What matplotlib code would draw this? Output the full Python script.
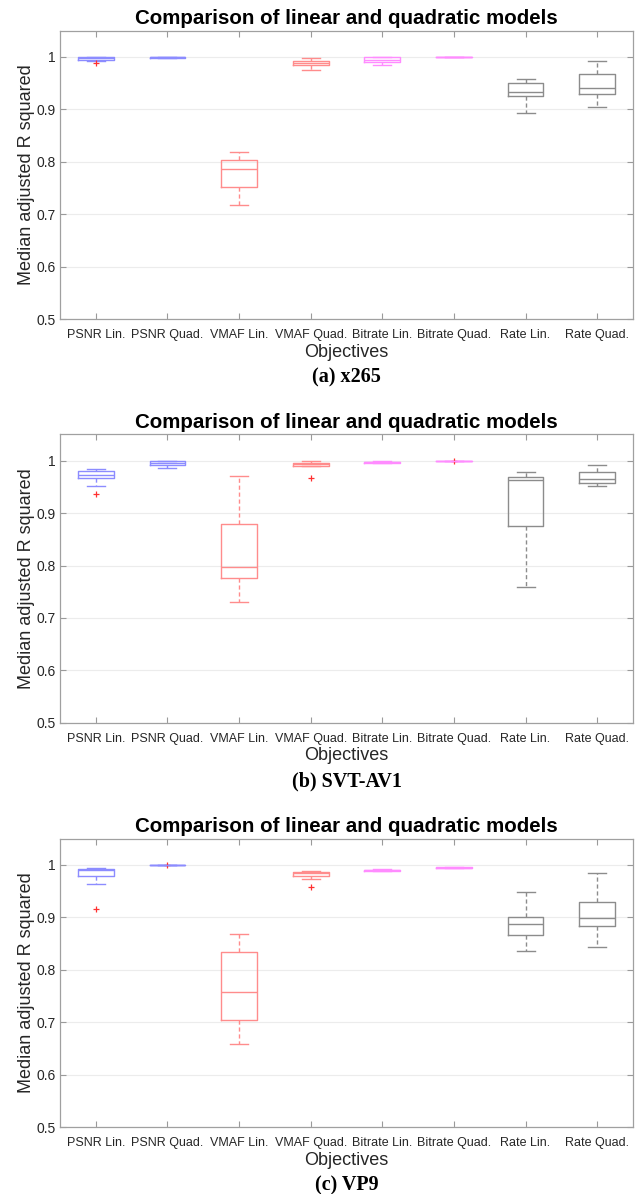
import matplotlib
matplotlib.use("Agg")
import matplotlib.pyplot as plt

categories = ["PSNR Lin.", "PSNR Quad.", "VMAF Lin.", "VMAF Quad.",
              "Bitrate Lin.", "Bitrate Quad.", "Rate Lin.", "Rate Quad."]
yticks = [0.5, 0.6, 0.7, 0.8, 0.9, 1.0]
ytick_labels = ["0.5", "0.6", "0.7", "0.8", "0.9", "1"]

# five-number summaries, one list per encoder
x265_whislo = [0.992, 0.998, 0.718, 0.975, 0.985, 0.999, 0.893, 0.904]
x265_q1 = [0.995, 0.998, 0.752, 0.984, 0.990, 0.9995, 0.925, 0.929]
x265_med = [0.997, 0.999, 0.786, 0.989, 0.995, 1.0, 0.934, 0.940]
x265_q3 = [0.999, 1.0, 0.803, 0.992, 1.0, 1.0, 0.950, 0.968]
x265_whishi = [1.0, 1.0, 0.818, 0.997, 1.0, 1.0, 0.958, 0.992]
x265_fliers = [[0.989], [], [], [], [], [], [], []]

av1_whislo = [0.952, 0.987, 0.730, 0.990, 0.995, 0.9995, 0.759, 0.951]
av1_q1 = [0.967, 0.992, 0.777, 0.990, 0.996, 1.0, 0.876, 0.958]
av1_med = [0.972, 0.995, 0.798, 0.994, 0.997, 1.0, 0.964, 0.966]
av1_q3 = [0.981, 0.999, 0.880, 0.995, 0.998, 1.0, 0.969, 0.979]
av1_whishi = [0.985, 1.0, 0.971, 0.999, 0.999, 1.0, 0.979, 0.992]
av1_fliers = [[0.937], [], [], [0.967], [], [0.999], [], []]

vp9_whislo = [0.964, 0.999, 0.659, 0.973, 0.988, 0.994, 0.836, 0.844]
vp9_q1 = [0.978, 0.999, 0.704, 0.978, 0.989, 0.995, 0.867, 0.884]
vp9_med = [0.990, 0.999, 0.758, 0.985, 0.990, 0.995, 0.888, 0.899]
vp9_q3 = [0.992, 0.9995, 0.833, 0.987, 0.991, 0.996, 0.900, 0.930]
vp9_whishi = [0.994, 1.0, 0.869, 0.989, 0.992, 0.996, 0.948, 0.984]
vp9_fliers = [[0.915], [0.999], [], [0.957], [], [], [], []]

captions = ["(a) x265", "(b) SVT-AV1", "(c) VP9"]

box_colors = ["#8c8cff", "#8c8cff", "#ff8c8c", "#ff8c8c",
              "#ff8cff", "#ff8cff", "#8c8c8c", "#8c8c8c"]

panels = [
    (x265_whislo, x265_q1, x265_med, x265_q3, x265_whishi, x265_fliers),
    (av1_whislo, av1_q1, av1_med, av1_q3, av1_whishi, av1_fliers),
    (vp9_whislo, vp9_q1, vp9_med, vp9_q3, vp9_whishi, vp9_fliers),
]

fig = plt.figure(figsize=(6.44, 11.94), dpi=100)
bottoms = [0.7328, 0.3946, 0.0561]

for (lo, q1, med, q3, hi, fl), bottom, caption in zip(panels, bottoms, captions):
    ax = fig.add_axes([0.0932, bottom, 0.8897, 0.2415])
    ax.set_axisbelow(True)
    ax.yaxis.grid(True, color="#ececec", linewidth=0.8)

    for i in range(len(categories)):
        stats = [{"whislo": lo[i], "q1": q1[i], "med": med[i], "q3": q3[i],
                  "whishi": hi[i], "fliers": fl[i], "label": categories[i]}]
        c = box_colors[i]
        ax.bxp(stats, positions=[i + 1], widths=0.5, showfliers=True,
               boxprops=dict(color=c, linewidth=1.0),
               medianprops=dict(color=c, linewidth=1.0),
               whiskerprops=dict(color=c, linewidth=1.0, linestyle=(0, (3, 2))),
               capprops=dict(color=c, linewidth=1.0),
               capwidths=0.25,
               flierprops=dict(marker="+", markeredgecolor="#ff3030",
                               markersize=5, markeredgewidth=0.9))

    ax.set_xlim(0.5, len(categories) + 0.5)
    ax.set_ylim(0.5, 1.05)
    ax.set_xticks(range(1, len(categories) + 1))
    ax.set_xticklabels(categories, fontsize=9, color="#262626",
                       family="Liberation Sans")
    ax.set_yticks(yticks)
    ax.set_yticklabels(ytick_labels, fontsize=10, color="#262626",
                       family="Liberation Sans")
    ax.tick_params(direction="in", length=4, width=0.8, color="#9a9a9a",
                   top=True, right=True, pad=3)
    ax.tick_params(axis="x", pad=7)
    for sp in ax.spines.values():
        sp.set_color("#a0a0a0")
        sp.set_linewidth(0.9)

    ax.set_title("Comparison of linear and quadratic models", fontsize=14.8,
                 fontweight="bold", family="Liberation Sans", pad=5)
    ax.set_ylabel("Median adjusted R squared", fontsize=13, color="#262626",
                  family="Liberation Sans", labelpad=1)
    ax.set_xlabel("Objectives", fontsize=13, color="#262626",
                  family="Liberation Sans", labelpad=2)
    ax.text(0.5, -0.167, caption, transform=ax.transAxes, ha="center",
            va="top", fontsize=14.5, fontweight="bold",
            family="Liberation Serif")

fig.savefig("out.png", dpi=100)
